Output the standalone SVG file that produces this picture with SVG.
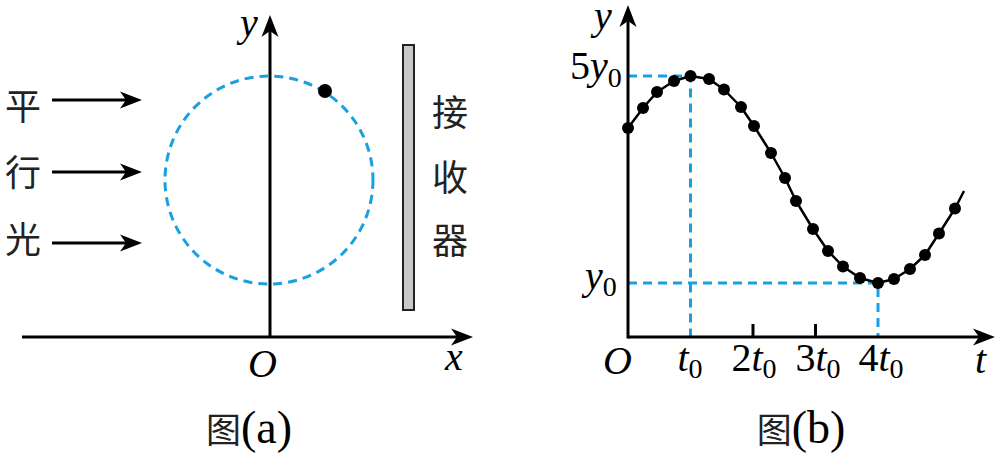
<svg xmlns="http://www.w3.org/2000/svg" width="1000" height="454" viewBox="0 0 1000 454">
<style>
.ax{stroke:#000;stroke-width:3;fill:none}
.arr{stroke:#000;stroke-width:3;fill:none}
.dash{stroke:#1aa0e0;stroke-width:3;fill:none;stroke-dasharray:9 6}
.lat{font-family:"Liberation Serif","Times New Roman",serif;font-size:40px;fill:#000}
.it{font-style:italic}
.sub{font-size:28px;font-style:normal}
.cjk{font-family:"Noto Sans CJK SC","Noto Sans CJK JP",sans-serif;font-size:36px;fill:#222}
.cap{font-family:"Liberation Serif","Times New Roman",serif;font-size:46px;fill:#000}
.dot{fill:#000}
</style>
<defs>
<marker id="ah" viewBox="-24 -10 26 20" markerWidth="26" markerHeight="20" refX="-12" refY="0" orient="auto" markerUnits="userSpaceOnUse">
<path d="M0,0 L-22,-8.5 L-16,0 L-22,8.5 Z" fill="#000"/>
</marker>
</defs>

<g id="panel-a">
<g id="axes-a">
<line class="ax" x1="22" y1="337" x2="461" y2="337" marker-end="url(#ah)"/>
<line class="ax" x1="270" y1="337" x2="270" y2="27" marker-end="url(#ah)"/>
<text class="lat it" x="240" y="36">y</text>
<text class="lat it" x="248" y="377">O</text>
<text class="lat it" x="445" y="370">x</text>
</g>
<g id="orbit">
<circle class="dash" cx="269" cy="180" r="104"/>
<circle class="dot" cx="325" cy="91" r="7"/>
</g>
<g id="light">
<text class="cjk" x="5" y="120">平</text>
<text class="cjk" x="5" y="186">行</text>
<text class="cjk" x="5" y="253">光</text>
</g>
<g id="receiver">
<rect x="403" y="45" width="11" height="265" fill="#c8c8c8" stroke="#222" stroke-width="2"/>
<text class="cjk" x="450" y="126" text-anchor="middle">接</text>
<text class="cjk" x="450" y="191" text-anchor="middle">收</text>
<text class="cjk" x="450" y="254" text-anchor="middle">器</text>
</g>
<text id="cap-a" x="249" y="443" text-anchor="middle"><tspan class="cjk" style="font-size:35px">图</tspan><tspan class="cap">(a)</tspan></text>
</g>

<g id="connectors">
<line class="arr" x1="52" y1="100" x2="130" y2="100" marker-end="url(#ah)"/>
<line class="arr" x1="52" y1="172" x2="130" y2="172" marker-end="url(#ah)"/>
<line class="arr" x1="52" y1="243" x2="130" y2="243" marker-end="url(#ah)"/>
</g>

<g id="panel-b">
<g id="guides">
<polyline class="dash" points="628,76 690.5,76 690.5,337"/>
<polyline class="dash" points="628,283 878,283 878,337"/>
</g>
<g id="axes-b">
<line class="ax" x1="628" y1="337" x2="983" y2="337" marker-end="url(#ah)"/>
<line class="ax" x1="628" y1="338.5" x2="628" y2="17" marker-end="url(#ah)"/>
<line class="ax" x1="753" y1="337" x2="753" y2="324"/>
<line class="ax" x1="815.5" y1="337" x2="815.5" y2="324"/>
</g>
<g id="curve">
<polyline fill="none" stroke="#000" stroke-width="2.5" stroke-linejoin="round" points="628,128 643,108 657,92 674,81 690.5,76 709,79 724,89.5 741,107 754,126 771,153 785,178 796,201 813,229 828,251 843,266.5 860,278 878,283 894,279 910,269 925,255 939,233.5 955,208.5 964,191"/>
<g class="dot">
<circle cx="628" cy="128" r="6"/><circle cx="643" cy="108" r="6"/><circle cx="657" cy="92" r="6"/><circle cx="674" cy="81" r="6"/><circle cx="690.5" cy="76" r="6"/><circle cx="709" cy="79" r="6"/><circle cx="724" cy="89.5" r="6"/><circle cx="741" cy="107" r="6"/><circle cx="754" cy="126" r="6"/><circle cx="771" cy="153" r="6"/><circle cx="785" cy="178" r="6"/><circle cx="796" cy="201" r="6"/><circle cx="813" cy="229" r="6"/><circle cx="828" cy="251" r="6"/><circle cx="843" cy="266.5" r="6"/><circle cx="860" cy="278" r="6"/><circle cx="878" cy="283" r="6"/><circle cx="894" cy="279" r="6"/><circle cx="910" cy="269" r="6"/><circle cx="925" cy="255" r="6"/><circle cx="939" cy="233.5" r="6"/><circle cx="955" cy="208.5" r="6"/>
</g>
</g>
<g id="labels-b">
<text class="lat it" x="594" y="29">y</text>
<text class="lat" x="570" y="79">5<tspan class="it">y</tspan><tspan class="sub" dy="8">0</tspan></text>
<text class="lat it" x="585" y="289">y<tspan class="sub" dy="7">0</tspan></text>
<text class="lat it" x="603" y="374">O</text>
<text class="lat it" x="690" y="371" text-anchor="middle">t<tspan class="sub" dy="7">0</tspan></text>
<text class="lat" x="754" y="371" text-anchor="middle">2<tspan class="it">t</tspan><tspan class="sub" dy="7">0</tspan></text>
<text class="lat" x="818" y="371" text-anchor="middle">3<tspan class="it">t</tspan><tspan class="sub" dy="7">0</tspan></text>
<text class="lat" x="881" y="371" text-anchor="middle">4<tspan class="it">t</tspan><tspan class="sub" dy="7">0</tspan></text>
<text class="lat it" x="975" y="373">t</text>
</g>
<text id="cap-b" x="801" y="443" text-anchor="middle"><tspan class="cjk" style="font-size:35px">图</tspan><tspan class="cap">(b)</tspan></text>
</g>
</svg>
